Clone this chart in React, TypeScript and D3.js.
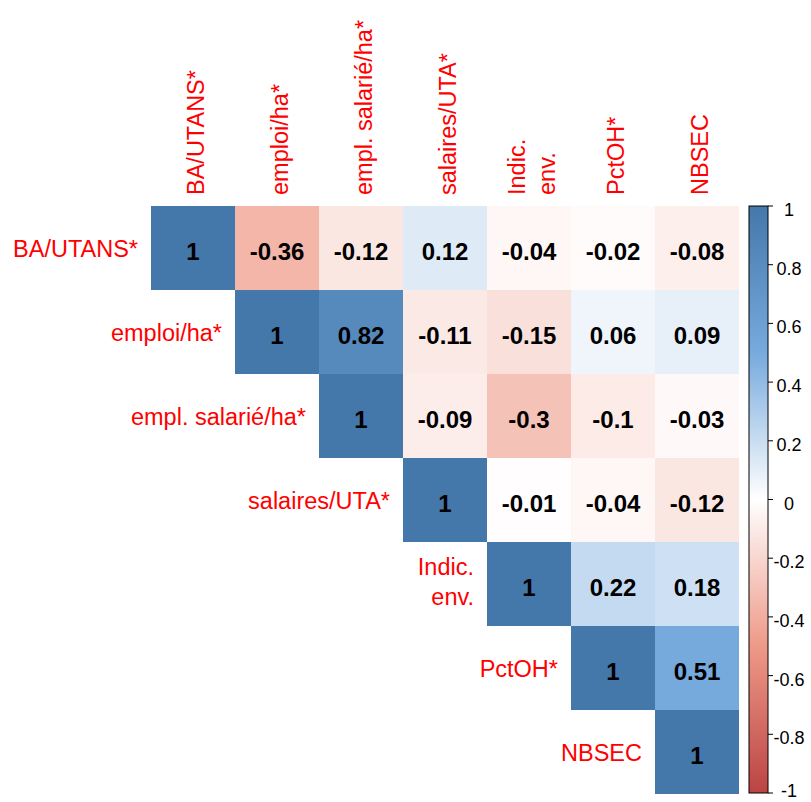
import React from "react";
import * as d3 from "d3";

const variables = [
  "BA/UTANS*",
  "emploi/ha*",
  "empl. salarié/ha*",
  "salaires/UTA*",
  "Indic.\nenv.",
  "PctOH*",
  "NBSEC",
];

// upper triangle rows (starting at diagonal)
const row0 = [1, -0.36, -0.12, 0.12, -0.04, -0.02, -0.08];
const row1 = [1, 0.82, -0.11, -0.15, 0.06, 0.09];
const row2 = [1, -0.09, -0.3, -0.1, -0.03];
const row3 = [1, -0.01, -0.04, -0.12];
const row4 = [1, 0.22, 0.18];
const row5 = [1, 0.51];
const row6 = [1];
const rows = [row0, row1, row2, row3, row4, row5, row6];

const colorTicks = [1, 0.8, 0.6, 0.4, 0.2, 0, -0.2, -0.4, -0.6, -0.8, -1];
const paletteStops = [-1, -0.5, 0, 0.5, 1];
const paletteColors = ["#BB4444", "#EE9988", "#FFFFFF", "#77AADD", "#4477AA"];

const W = 811;
const H = 802;
const gridX0 = 151;
const gridY0 = 206;
const cell = 84;
const n = variables.length;

const x = d3.scaleBand<number>().domain(d3.range(n)).range([gridX0, gridX0 + n * cell]);
const y = d3.scaleBand<number>().domain(d3.range(n)).range([gridY0, gridY0 + n * cell]);
const color = d3
  .scaleLinear<string>()
  .domain(paletteStops)
  .range(paletteColors)
  .interpolate(d3.interpolateRgb);

const barX = 749;
const barW = 19;
const barScale = d3.scaleLinear().domain([-1, 1]).range([gridY0 + n * cell - 1, gridY0]);

const labelFont = "'Liberation Sans', Arial, sans-serif";

export default function App() {
  const cells: { i: number; j: number; v: number }[] = [];
  rows.forEach((r, i) => r.forEach((v, k) => cells.push({ i, j: i + k, v })));

  return (
    <svg width={W} height={H} style={{ position: "absolute", left: 0, top: 0 }}>
      <defs>
        <linearGradient id="cbar" x1="0" y1="1" x2="0" y2="0">
          {paletteStops.map((s, k) => (
            <stop key={k} offset={(s + 1) / 2} stopColor={paletteColors[k]} />
          ))}
        </linearGradient>
      </defs>
      <rect x={0} y={0} width={W} height={H} fill="#fff" />
      {cells.map((c) => (
        <g key={`${c.i}-${c.j}`}>
          <rect
            x={x(c.j)}
            y={y(c.i)}
            width={x.bandwidth()}
            height={y.bandwidth()}
            fill={color(c.v)}
          />
          <text
            x={(x(c.j) as number) + cell / 2}
            y={(y(c.i) as number) + cell / 2 + 12}
            textAnchor="middle"
            fontFamily={labelFont}
            fontWeight="bold"
            fontSize={24}
            fill="#000"
          >
            {String(c.v)}
          </text>
        </g>
      ))}
      {/* row labels */}
      {variables.map((name, i) => {
        const lines = name.split("\n");
        const cy = (y(i) as number) + cell / 2;
        const xr = (x(i) as number) - 13;
        const off = lines.length > 1 ? 6 : 9;
        return (
          <text
            key={`r${i}`}
            textAnchor="end"
            fontFamily={labelFont}
            fontSize={23.5}
            fill="#FF0000"
          >
            {lines.map((l, k) => (
              <tspan key={k} x={xr} y={cy + off + (k - (lines.length - 1) / 2) * 30}>
                {l}
              </tspan>
            ))}
          </text>
        );
      })}
      {/* column labels */}
      {variables.map((name, j) => {
        const lines = name.split("\n");
        const cx = (x(j) as number) + cell / 2;
        return (
          <g key={`c${j}`}>
            {lines.map((l, k) => (
              <text
                key={k}
                transform={`translate(${cx + 11 + (k - (lines.length - 1) / 2) * 30},195) rotate(-90)`}
                textAnchor="start"
                fontFamily={labelFont}
                fontSize={23.5}
                fill="#FF0000"
              >
                {l}
              </text>
            ))}
          </g>
        );
      })}
      {/* colour bar */}
      <rect
        x={barX}
        y={barScale(1)}
        width={barW}
        height={barScale(-1) - barScale(1)}
        fill="url(#cbar)"
        stroke="#000"
        strokeWidth={1}
      />
      {colorTicks.map((t) => (
        <g key={`t${t}`}>
          <line
            x1={barX + barW}
            x2={barX + barW + 5}
            y1={barScale(t)}
            y2={barScale(t)}
            stroke="#000"
            strokeWidth={1}
          />
          <text
            x={789}
            y={Math.min(barScale(t) + 10, 797)}
            textAnchor="middle"
            fontFamily={labelFont}
            fontSize={18}
            fill="#000"
          >
            {String(t)}
          </text>
        </g>
      ))}
    </svg>
  );
}
